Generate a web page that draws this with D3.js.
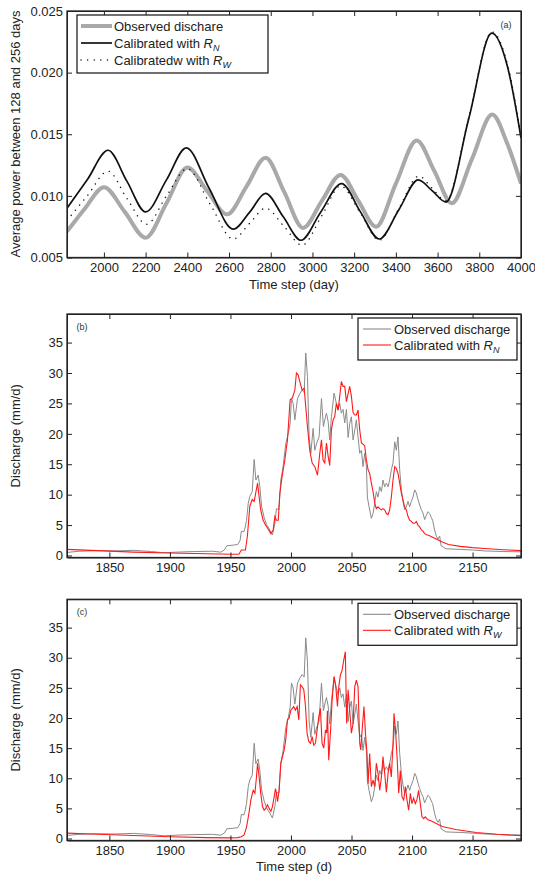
<!DOCTYPE html>
<html>
<head>
<meta charset="utf-8">
<script src="https://cdn.jsdelivr.net/npm/d3@7/dist/d3.min.js"></script>
<style>
  body { margin: 0; background: #fff; }
  svg { font-family: "Liberation Sans", Arial, sans-serif; }
  .axis text { font-size: 13px; fill: #222; }
  .axis path, .axis line { stroke: #222; }
</style>
</head>
<body>
<div id="chart"></div>
<script>
// ---- panel (a): average power between 128 and 256 days ----
var powerTicksX = [2000, 2200, 2400, 2600, 2800, 3000, 3200, 3400, 3600, 3800, 4000];
var powerTicksY = [0.005, 0.010, 0.015, 0.020, 0.025];

var powerObserved = [[1823,0.0071],[1910,0.0090],[2000,0.0107],[2100,0.0087],[2200,0.0066],[2300,0.0094],
  [2400,0.0123],[2495,0.0104],[2590,0.0085],[2685,0.0108],[2775,0.0131],[2865,0.0103],[2955,0.0074],
  [3045,0.0096],[3135,0.0117],[3220,0.0096],[3305,0.0075],[3400,0.0110],[3500,0.0145],[3585,0.0120],
  [3668,0.0094],[3765,0.0130],[3862,0.0166],[3935,0.0142],[4000,0.0110]];

var powerRN = [[1823,0.0090],[1920,0.0113],[2020,0.0137],[2110,0.0112],[2200,0.0087],[2300,0.0113],
  [2395,0.0139],[2505,0.0106],[2620,0.0073],[2700,0.0087],[2775,0.0102],[2860,0.0083],[2945,0.0064],
  [3040,0.0087],[3140,0.0110],[3230,0.0087],[3320,0.0065],[3415,0.0089],[3507,0.0113],[3575,0.0104],
  [3640,0.0095],[3750,0.0163],[3860,0.0232],[3935,0.0205],[4000,0.0147]];

var powerRW = [[1823,0.0080],[1920,0.0100],[2020,0.0120],[2110,0.0098],[2205,0.0077],[2300,0.0100],
  [2400,0.0122],[2510,0.0093],[2620,0.0065],[2700,0.0078],[2775,0.0090],[2865,0.0075],[2950,0.0060],
  [3045,0.0084],[3135,0.0108],[3230,0.0086],[3320,0.0064],[3415,0.0090],[3510,0.0116],[3575,0.0106],
  [3640,0.0096],[3750,0.0164],[3860,0.0233],[3935,0.0207],[4000,0.0148]];

// ---- panels (b) and (c): discharge (mm/d) ----
var dischargeTicksX = [1850, 1900, 1950, 2000, 2050, 2100, 2150];
var dischargeTicksY = [0, 5, 10, 15, 20, 25, 30, 35];

var obsQ = [[1815,0.5],[1825,0.7],[1840,0.8],[1855,0.75],[1870,0.85],[1885,0.65],[1895,0.45],[1905,0.55],
  [1920,0.65],[1935,0.7],[1942,0.55],[1945,0.9],[1947,1.6],[1952,1.7],[1956,1.8],[1958,2.5],[1959,4.0],
  [1961,3.9],[1962,4.5],[1963.3,5.8],[1964.7,8.6],[1966,9.7],[1968,10.5],[1969.6,15.8],[1971,12.4],
  [1972.9,13.2],[1974.3,11.3],[1975.7,8.1],[1977.9,6.2],[1979.8,5.1],[1982.5,4.2],[1984.7,3.4],[1986.7,5.3],
  [1988,7.7],[1990,7.5],[1991.6,12.4],[1993.5,14.6],[1995.7,18.4],[1997.7,20.0],[1999.3,21.7],[2000.4,25.8],
  [2001.8,25.0],[2003.2,22.3],[2005.4,25.8],[2007.3,26.6],[2009.2,27.2],[2010.9,26.8],[2012.2,33.3],
  [2013.6,29.4],[2015,19.5],[2016.4,16.8],[2018.3,20.9],[2019.7,17.3],[2021.3,18.5],[2023.2,19.5],
  [2025.2,25.8],[2026.8,21.2],[2028.5,22.8],[2029.3,23.4],[2030.7,22.0],[2032,19.0],[2033.4,22.8],
  [2035.6,26.7],[2037.5,25.0],[2038.9,23.9],[2040.3,25.0],[2041.6,23.4],[2043,24.0],[2044.4,21.8],
  [2045.8,24.0],[2047.2,19.4],[2048.5,21.7],[2049.9,22.8],[2051.3,19.0],[2052.7,20.6],[2054,22.3],
  [2055.4,19.5],[2056.8,16.8],[2058.2,17.3],[2059.5,14.6],[2060.9,16.8],[2062.3,14.6],[2063.1,9.6],
  [2064.5,8.0],[2066.4,6.1],[2067.8,6.9],[2069.2,8.6],[2070.5,10.5],[2071.9,9.6],[2073.3,11.3],[2074.7,10.5],
  [2076,12.4],[2077.4,11.3],[2078.8,11.9],[2080.2,11.3],[2081.5,12.4],[2082.9,14.1],[2084.3,15.2],
  [2085.7,18.7],[2087,17.3],[2088.4,19.5],[2089.8,14.1],[2091.2,10.8],[2092.5,8.9],[2093.9,7.5],[2095.3,8.0],
  [2096.7,8.9],[2098,8.0],[2099.4,8.9],[2100.8,9.6],[2102.2,10.8],[2103.5,10.3],[2104.9,9.2],[2106.3,8.3],
  [2107.7,7.5],[2109,7.0],[2110.4,5.9],[2111.8,6.6],[2113.2,7.2],[2114.5,6.9],[2116,6.2],[2117,5.8],
  [2118.6,4.2],[2120,3.2],[2121.4,2.7],[2122.8,3.2],[2124,1.6],[2128,1.1],[2140,1.0],[2150,0.9],
  [2160,0.75],[2175,0.65],[2190,0.6]];

var calibRN = [[1815,1.0],[1840,0.8],[1870,0.55],[1900,0.4],[1930,0.28],[1950,0.2],[1957,0.2],[1959,0.9],
  [1962.4,0.9],[1964,3.2],[1966,8.1],[1968,9.2],[1969.6,8.9],[1972.4,11.9],[1973.7,9.6],[1975,7.5],[1977,5.8],
  [1979,5.0],[1981,4.4],[1983.4,3.6],[1985.3,4.2],[1986.7,6.4],[1988,5.8],[1989.5,5.8],[1990.8,10.2],
  [1992.7,13.0],[1994.9,15.7],[1997.1,19.0],[1999.3,25.6],[2001.2,25.9],[2003.2,27.2],[2004.5,30.0],
  [2005.9,29.7],[2007.3,28.6],[2009.2,27.2],[2010.9,27.5],[2012.2,24.5],[2013.6,21.2],[2015.5,17.3],
  [2017.5,15.2],[2019.7,14.6],[2021.9,13.2],[2023.8,16.8],[2025.2,19.0],[2026.5,15.7],[2027.9,15.2],
  [2029.3,18.5],[2030.7,16.3],[2032,14.8],[2033.4,20.7],[2034.8,22.3],[2036.1,22.8],[2037.5,25.0],
  [2038.9,23.9],[2040.3,26.2],[2041.6,28.6],[2043,27.8],[2044.4,27.8],[2045.8,25.3],[2047.2,26.6],
  [2048.5,27.8],[2049.9,26.2],[2051.3,23.5],[2052.7,23.1],[2054,23.1],[2055.4,23.9],[2056.8,20.6],
  [2058.2,18.5],[2059.5,18.3],[2060.9,18.0],[2062.3,15.7],[2063.7,14.1],[2065,13.5],[2066.4,11.9],
  [2067.8,10.5],[2069.2,8.6],[2070.5,7.7],[2071.9,8.0],[2073.3,7.7],[2074.7,7.5],[2076,7.7],[2077.4,7.5],
  [2078.8,6.9],[2080.2,6.7],[2081.5,7.5],[2082.9,9.6],[2084.3,12.4],[2085.7,14.6],[2087,14.3],[2088.4,13.5],
  [2089.8,11.9],[2091.2,10.2],[2092.5,9.2],[2093.9,8.0],[2095.3,7.5],[2096.7,6.4],[2098,5.8],[2099.4,5.6],
  [2100.8,5.3],[2102.2,5.3],[2103.5,5.6],[2104.9,5.0],[2106.3,4.7],[2107.7,4.2],[2109,4.0],[2110.4,3.6],
  [2112,3.4],[2114,3.3],[2117,3.0],[2120,2.7],[2125,2.2],[2130,1.8],[2140,1.5],[2150,1.3],[2160,1.15],
  [2175,0.95],[2190,0.8]];

var calibRW = [[1815,0.9],[1840,0.7],[1870,0.5],[1900,0.3],[1930,0.15],[1950,0.1],[1956,0.15],[1959,0.3],
  [1961.3,0.6],[1963.3,1.9],[1965.2,4.1],[1966.9,6.4],[1968.8,8.0],[1970.2,7.5],[1971.5,10.2],[1972.4,12.5],
  [1973.7,10.2],[1975,7.5],[1976.5,5.3],[1977.8,4.7],[1979.2,5.0],[1980.6,5.6],[1982,5.0],[1983.4,4.5],
  [1984.7,5.3],[1986.1,6.9],[1987.2,8.3],[1988,7.5],[1988.9,6.1],[1990.2,8.0],[1991.6,12.5],[1993,13.6],
  [1994.4,14.7],[1995.7,16.4],[1997.1,19.7],[1998.5,20.0],[1999.9,21.3],[2001.2,21.6],[2002.3,21.9],
  [2003.7,21.3],[2005.1,21.9],[2006.5,19.7],[2007.8,25.5],[2009.2,25.2],[2010.6,24.7],[2012,21.9],
  [2013.3,17.5],[2014.7,16.1],[2016.1,15.8],[2017.5,16.9],[2018.8,15.5],[2020.2,15.8],[2021.6,18.0],
  [2023,20.2],[2024.3,21.6],[2025.7,15.8],[2027.1,15.0],[2028.5,18.0],[2029.5,17.5],[2030.1,21.2],
  [2031.2,13.0],[2032.9,18.6],[2034,23.0],[2035.6,26.9],[2037,25.2],[2038.4,21.9],[2039.5,25.2],
  [2040.8,27.1],[2042.2,27.9],[2043.6,29.6],[2044.9,31.0],[2046,19.1],[2047.2,24.7],[2048.5,21.3],
  [2049.9,17.5],[2051.3,19.1],[2052.7,25.2],[2054,26.3],[2055.4,25.2],[2056.8,15.8],[2057.6,14.7],
  [2059,18.6],[2060.3,21.9],[2061.5,17.5],[2062.8,14.1],[2063.7,9.1],[2065,14.1],[2066.4,8.6],[2067.8,9.7],
  [2069.2,8.6],[2070.5,12.5],[2071.9,10.8],[2073.3,8.0],[2074.7,10.2],[2076,13.6],[2077.4,10.8],[2078.8,7.7],
  [2080.2,10.8],[2081.5,12.5],[2082.9,10.2],[2084.3,15.8],[2085.1,20.8],[2086.5,17.5],[2087.9,12.5],
  [2089,7.5],[2090.3,11.3],[2091.7,6.9],[2093.1,6.4],[2094.5,8.6],[2095.8,6.4],[2097.2,4.7],[2098.6,7.5],
  [2099.9,5.8],[2101.3,6.7],[2102.7,5.8],[2104,6.4],[2105.4,8.0],[2106.8,5.8],[2108.2,3.6],[2109.6,3.3],
  [2110.9,3.6],[2113.2,3.1],[2116,2.9],[2120,2.5],[2125,2.0],[2136,1.5],[2153,1.0],[2170,0.7],[2190,0.45]];

var W = 535, H = 874;
var TICK = 5;

var svg = d3.select('#chart').append('svg')
  .attr('width', W)
  .attr('height', H);

// draws the boxed MATLAB-style axes with inward ticks on all sides
function drawFrame(g, x, y, ticksX, ticksY, fmtY) {
  var x0 = x.range()[0], x1 = x.range()[1];
  var y0 = y.range()[0], y1 = y.range()[1];

  g.append('g').attr('class', 'axis')
    .attr('transform', 'translate(0,' + y0 + ')')
    .call(d3.axisBottom(x).tickValues(ticksX).tickSizeInner(-TICK).tickSizeOuter(0)
      .tickPadding(5).tickFormat(d3.format('d')));
  g.append('g').attr('class', 'axis')
    .attr('transform', 'translate(0,' + y1 + ')')
    .call(d3.axisTop(x).tickValues(ticksX).tickSizeInner(-TICK).tickSizeOuter(0).tickFormat(''));
  g.append('g').attr('class', 'axis')
    .attr('transform', 'translate(' + x0 + ',0)')
    .call(d3.axisLeft(y).tickValues(ticksY).tickSizeInner(-TICK).tickSizeOuter(0)
      .tickPadding(4).tickFormat(fmtY));
  g.append('g').attr('class', 'axis')
    .attr('transform', 'translate(' + x1 + ',0)')
    .call(d3.axisRight(y).tickValues(ticksY).tickSizeInner(-TICK).tickSizeOuter(0).tickFormat(''));

  g.append('rect')
    .attr('x', x0).attr('y', y1)
    .attr('width', x1 - x0).attr('height', y0 - y1)
    .attr('fill', 'none').attr('stroke', '#222').attr('stroke-width', 1.3);
}

function clipFor(id, x, y) {
  svg.append('clipPath').attr('id', id).append('rect')
    .attr('x', x.range()[0]).attr('y', y.range()[1])
    .attr('width', x.range()[1] - x.range()[0])
    .attr('height', y.range()[0] - y.range()[1]);
}

function yLabel(text, cx, cy) {
  svg.append('text')
    .attr('transform', 'translate(' + cx + ',' + cy + ') rotate(-90)')
    .attr('text-anchor', 'middle')
    .style('font-size', '13px').style('fill', '#222')
    .text(text);
}

function legendLabel(sel, base, sub) {
  sel.append('tspan').text(base);
  if (sub) {
    sel.append('tspan').style('font-style', 'italic').text('R');
    sel.append('tspan').style('font-style', 'italic').style('font-size', '9px')
      .attr('dy', 3).text(sub);
  }
}

// ---------------- panel (a) ----------------
(function() {
  var x = d3.scaleLinear().domain([1823, 4000]).range([67, 521]);
  var y = d3.scaleLinear().domain([0.005, 0.025]).range([257.5, 11]);
  var g = svg.append('g');
  clipFor('clipA', x, y);

  var line = d3.line()
    .x(function(d) { return x(d[0]); })
    .y(function(d) { return y(d[1]); })
    .curve(d3.curveMonotoneX);

  var plot = g.append('g').attr('clip-path', 'url(#clipA)');
  plot.append('path').datum(powerObserved).attr('d', line)
    .attr('fill', 'none').attr('stroke', '#a9a9a9').attr('stroke-width', 4);
  plot.append('path').datum(powerRW).attr('d', line)
    .attr('fill', 'none').attr('stroke', '#111').attr('stroke-width', 1.4)
    .attr('stroke-dasharray', '0.1,6.5').attr('stroke-linecap', 'round');
  plot.append('path').datum(powerRN).attr('d', line)
    .attr('fill', 'none').attr('stroke', '#111').attr('stroke-width', 1.7);

  drawFrame(g, x, y, powerTicksX, powerTicksY, d3.format('.3f'));

  svg.append('text').attr('x', 294).attr('y', 289).attr('text-anchor', 'middle')
    .style('font-size', '13px').style('fill', '#222').text('Time step (day)');
  yLabel('Average power between 128 and 256 days', 20, 134);

  svg.append('text').attr('x', 506).attr('y', 28).attr('text-anchor', 'middle')
    .style('font-size', '9px').style('fill', '#333').text('(a)');

  // legend
  var lg = svg.append('g');
  lg.append('rect').attr('x', 77).attr('y', 15).attr('width', 191).attr('height', 58)
    .attr('fill', '#fff').attr('stroke', '#111').attr('stroke-width', 1.2);
  var rows = [
    { y: 26, label: 'Observed dischare', sub: null, stroke: '#a9a9a9', w: 4, dash: null },
    { y: 43, label: 'Calibrated with ', sub: 'N', stroke: '#111', w: 1.7, dash: null },
    { y: 60, label: 'Calibratedw with ', sub: 'W', stroke: '#111', w: 1.4, dash: '0.1,6.5' }
  ];
  rows.forEach(function(r) {
    var l = lg.append('line').attr('x1', 81).attr('x2', 112).attr('y1', r.y).attr('y2', r.y)
      .attr('stroke', r.stroke).attr('stroke-width', r.w);
    if (r.dash) l.attr('stroke-dasharray', r.dash).attr('stroke-linecap', 'round');
    var t = lg.append('text').attr('x', 114).attr('y', r.y + 4.5)
      .style('font-size', '13px').style('fill', '#222');
    legendLabel(t, r.label, r.sub);
  });
})();

// ---------------- panels (b) and (c) ----------------
function dischargePanel(id, top, bottom, calib, sub, tag, showXLabel) {
  var x = d3.scaleLinear().domain([1815, 2190]).range([67, 521]);
  var y = d3.scaleLinear().domain([-0.33, 39.7]).range([bottom, top]);
  var g = svg.append('g');
  clipFor(id, x, y);

  var line = d3.line()
    .x(function(d) { return x(d[0]); })
    .y(function(d) { return y(d[1]); });

  var plot = g.append('g').attr('clip-path', 'url(#' + id + ')');
  plot.append('path').datum(obsQ).attr('d', line)
    .attr('fill', 'none').attr('stroke', '#8a8a8a').attr('stroke-width', 1);
  plot.append('path').datum(calib).attr('d', line)
    .attr('fill', 'none').attr('stroke', '#ff1a1a').attr('stroke-width', 1.1);

  drawFrame(g, x, y, dischargeTicksX, dischargeTicksY, d3.format('d'));

  yLabel('Discharge (mm/d)', 20, (top + bottom) / 2);
  if (showXLabel) {
    svg.append('text').attr('x', 294).attr('y', bottom + 30).attr('text-anchor', 'middle')
      .style('font-size', '13px').style('fill', '#222').text('Time step (d)');
  }
  svg.append('text').attr('x', 82).attr('y', top + 16).attr('text-anchor', 'middle')
    .style('font-size', '9px').style('fill', '#333').text(tag);

  // legend
  var lg = svg.append('g');
  var ly = top + 4;
  lg.append('rect').attr('x', 358).attr('y', ly).attr('width', 159).attr('height', 42)
    .attr('fill', '#fff').attr('stroke', '#111').attr('stroke-width', 1.2);
  var rows = [
    { y: ly + 11, label: 'Observed discharge', sub: null, stroke: '#8a8a8a' },
    { y: ly + 27, label: 'Calibrated with ', sub: sub, stroke: '#ff1a1a' }
  ];
  rows.forEach(function(r) {
    lg.append('line').attr('x1', 363).attr('x2', 391).attr('y1', r.y).attr('y2', r.y)
      .attr('stroke', r.stroke).attr('stroke-width', 1.1);
    var t = lg.append('text').attr('x', 394).attr('y', r.y + 4.5)
      .style('font-size', '13px').style('fill', '#222');
    legendLabel(t, r.label, r.sub);
  });
}

dischargePanel('clipB', 314, 557.5, calibRN, 'N', '(b)', false);
dischargePanel('clipC', 599.3, 840.5, calibRW, 'W', '(c)', true);
</script>
</body>
</html>
